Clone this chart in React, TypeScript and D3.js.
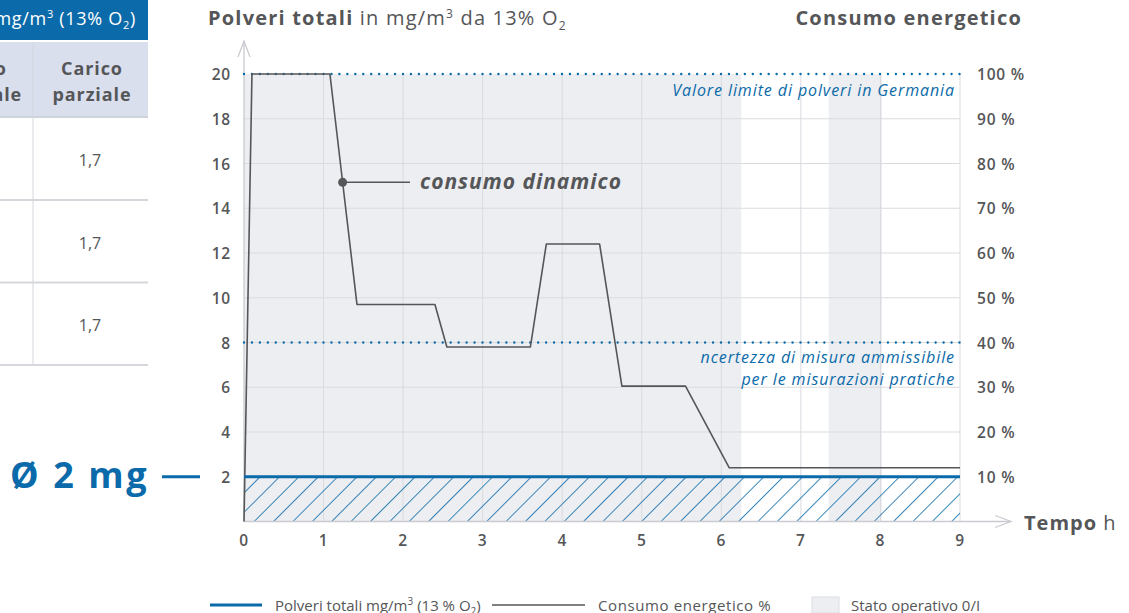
import React, { useEffect, useRef } from "react";
import * as d3 from "d3";

// hours on x, mg/m3 on left axis (right axis is % = value * 5)
const timeTicks = [0, 1, 2, 3, 4, 5, 6, 7, 8, 9];
const dustTicks = [2, 4, 6, 8, 10, 12, 14, 16, 18, 20];
const pctTicks = [10, 20, 30, 40, 50, 60, 70, 80, 90, 100];

const consumoT = [0, 0.1, 1.08, 1.42, 2.4, 2.55, 3.6, 3.8, 4.47, 4.75, 5.55, 6.1, 9];
const consumoV = [0, 20, 20, 9.7, 9.7, 7.8, 7.8, 12.4, 12.4, 6.05, 6.05, 2.4, 2.4];

const polveriT = [0, 9];
const polveriV = [2, 2];

const statoStart = [0, 7.35];
const statoEnd = [6.25, 8.02];

const limitValues = [20, 8];

const tableValues = ["1,7", "1,7", "1,7"];

const BLUE = "#0b6aa9";
const TEXT = "#555658";
const GRID = "#d9dbdf";
const FONT = "'Open Sans', sans-serif";

const App = () => {
  const svgRef = useRef(null);

  useEffect(() => {
    const width = 1129, height = 613;
    const svg = d3.select(svgRef.current)
      .attr("width", width)
      .attr("height", height)
      .style("font-family", FONT);
    svg.selectAll("*").remove();

    const x = d3.scaleLinear().domain([0, 9]).range([244, 960]);
    const y = d3.scaleLinear().domain([0, 20]).range([521.5, 74]);
    const yPct = d3.scaleLinear().domain([0, 100]).range([521.5, 74]);

    const defs = svg.append("defs");
    const pat = defs.append("pattern")
      .attr("id", "hatch")
      .attr("patternUnits", "userSpaceOnUse")
      .attr("width", 13.7)
      .attr("height", 13.7)
      .attr("patternTransform", "rotate(45)");
    pat.append("line")
      .attr("x1", 0).attr("y1", 0).attr("x2", 0).attr("y2", 13.7)
      .attr("stroke", BLUE).attr("stroke-width", 1.6);

    // ---- left table fragment ----
    svg.append("rect").attr("x", 0).attr("y", 0).attr("width", 148).attr("height", 40).attr("fill", BLUE);
    const hdr = svg.append("text").attr("x", 136).attr("y", 25).attr("text-anchor", "end")
      .attr("fill", "#fff").attr("font-size", 18).attr("letter-spacing", 0.7);
    hdr.append("tspan").text("mg/m");
    hdr.append("tspan").attr("font-size", 11).attr("dy", -7).text("3");
    hdr.append("tspan").attr("dy", 7).text(" (13% O");
    hdr.append("tspan").attr("font-size", 11).attr("dy", 4).text("2");
    hdr.append("tspan").attr("dy", -4).text(")");

    svg.append("rect").attr("x", 0).attr("y", 42).attr("width", 148).attr("height", 75).attr("fill", "#dadfee");
    svg.append("line").attr("x1", 0).attr("x2", 148).attr("y1", 117).attr("y2", 117)
      .attr("stroke", "#cfd3dc").attr("stroke-width", 2);
    svg.append("line").attr("x1", 33).attr("x2", 33).attr("y1", 42).attr("y2", 365)
      .attr("stroke", "#d5d7dc").attr("stroke-width", 1);
    [["Carico", 75], ["nominale", 101]].forEach(([t, yy]) => {
      svg.append("text").attr("x", -24).attr("y", yy).attr("text-anchor", "middle")
        .attr("font-size", 18).attr("font-weight", 700).attr("letter-spacing", 0.9)
        .attr("fill", TEXT).text(t);
    });
    [["Carico", 75], ["parziale", 101]].forEach(([t, yy]) => {
      svg.append("text").attr("x", 92).attr("y", yy).attr("text-anchor", "middle")
        .attr("font-size", 18).attr("font-weight", 700).attr("letter-spacing", 0.9)
        .attr("fill", TEXT).text(t);
    });
    tableValues.forEach((v, i) => {
      const top = 118 + i * 82.5;
      svg.append("text").attr("x", 90).attr("y", top + 48).attr("text-anchor", "middle")
        .attr("font-size", 16).attr("fill", TEXT).text(v);
      svg.append("line").attr("x1", 0).attr("x2", 148).attr("y1", top + 82).attr("y2", top + 82)
        .attr("stroke", "#d5d7dc").attr("stroke-width", 2);
    });

    // ---- average label ----
    svg.append("text").attr("x", 10).attr("y", 488).attr("font-size", 36).attr("font-weight", 700)
      .attr("letter-spacing", 2.6).attr("fill", BLUE).text("Ø 2 mg");
    svg.append("line").attr("x1", 162).attr("x2", 200).attr("y1", y(2)).attr("y2", y(2))
      .attr("stroke", BLUE).attr("stroke-width", 3);

    // ---- plot background ----
    svg.selectAll(".stato")
      .data(statoStart.map((s, i) => [s, statoEnd[i]]))
      .enter().append("rect")
      .attr("x", d => x(d[0]))
      .attr("y", y(20))
      .attr("width", d => x(d[1]) - x(d[0]))
      .attr("height", y(0) - y(20))
      .attr("fill", "#eceef1");

    svg.selectAll(".vgrid")
      .data(timeTicks.slice(1))
      .enter().append("line")
      .attr("x1", d => x(d)).attr("x2", d => x(d))
      .attr("y1", y(20)).attr("y2", y(0))
      .attr("stroke", GRID).attr("stroke-width", 1);

    svg.selectAll(".hgrid")
      .data(dustTicks.slice(0, -1))
      .enter().append("line")
      .attr("x1", x(0)).attr("x2", x(9))
      .attr("y1", d => y(d)).attr("y2", d => y(d))
      .attr("stroke", GRID).attr("stroke-width", 1);

    // hatched area under the dust line
    const area = d3.area().x((d, i) => x(polveriT[i])).y0(y(0)).y1(d => y(d));
    svg.append("path").datum(polveriV).attr("d", area).attr("fill", "url(#hatch)");

    // axes with open arrowheads
    const axisCol = "#c9cbd1";
    svg.append("line").attr("x1", x(0)).attr("x2", x(0)).attr("y1", y(0)).attr("y2", 41)
      .attr("stroke", axisCol).attr("stroke-width", 1.3);
    svg.append("path").attr("d", `M${x(0) - 6},57 L${x(0)},41 L${x(0) + 6},57`)
      .attr("fill", "none").attr("stroke", axisCol).attr("stroke-width", 1.3);
    svg.append("line").attr("x1", x(0)).attr("x2", 1011).attr("y1", y(0)).attr("y2", y(0))
      .attr("stroke", axisCol).attr("stroke-width", 1.3);
    svg.append("path").attr("d", `M995,${y(0) - 6} L1011,${y(0)} L995,${y(0) + 6}`)
      .attr("fill", "none").attr("stroke", axisCol).attr("stroke-width", 1.3);

    // limit lines (dotted)
    svg.selectAll(".limit")
      .data(limitValues)
      .enter().append("line")
      .attr("x1", x(0)).attr("x2", x(9))
      .attr("y1", d => y(d)).attr("y2", d => y(d))
      .attr("stroke", BLUE).attr("stroke-width", 2.4)
      .attr("stroke-linecap", "round")
      .attr("stroke-dasharray", "0 7.95");

    const noteAttrs = (sel) => sel.attr("text-anchor", "end").attr("font-size", 16)
      .attr("letter-spacing", 0.9).attr("font-style", "italic").attr("fill", BLUE);
    svg.append("text").attr("x", 955).attr("y", 96).call(noteAttrs)
      .text("Valore limite di polveri in Germania");
    svg.append("text").attr("x", 955).attr("y", 363).call(noteAttrs)
      .text("ncertezza di misura ammissibile");
    svg.append("text").attr("x", 955).attr("y", 385).call(noteAttrs)
      .text("per le misurazioni pratiche");

    // consumo line
    const line = d3.line().x((d, i) => x(consumoT[i])).y(d => y(d));
    svg.append("path").datum(consumoV).attr("d", line)
      .attr("fill", "none").attr("stroke", TEXT).attr("stroke-width", 1.6)
      .attr("stroke-linejoin", "round");

    // polveri line
    const pLine = d3.line().x((d, i) => x(polveriT[i])).y(d => y(d));
    svg.append("path").datum(polveriV).attr("d", pLine)
      .attr("fill", "none").attr("stroke", BLUE).attr("stroke-width", 3);

    // annotation on the falling segment
    const f = 0.47;
    const dotX = consumoT[2] + (consumoT[3] - consumoT[2]) * f;
    const dotY = consumoV[2] + (consumoV[3] - consumoV[2]) * f;
    svg.append("circle").attr("cx", x(dotX)).attr("cy", y(dotY)).attr("r", 4.5).attr("fill", TEXT);
    svg.append("line").attr("x1", x(dotX)).attr("x2", 410).attr("y1", y(dotY)).attr("y2", y(dotY))
      .attr("stroke", TEXT).attr("stroke-width", 1.5);
    svg.append("text").attr("x", 420).attr("y", y(dotY) + 7)
      .attr("font-size", 21).attr("font-weight", 700).attr("font-style", "italic")
      .attr("letter-spacing", 1).attr("fill", TEXT)
      .text("consumo dinamico");

    // tick labels
    const tickAttrs = (sel) => sel.attr("font-size", 15.5).attr("font-weight", 600)
      .attr("letter-spacing", 0.8).attr("fill", TEXT);
    svg.selectAll(".ly")
      .data(dustTicks)
      .enter().append("text")
      .attr("x", 231).attr("y", d => y(d) + 6)
      .attr("text-anchor", "end").call(tickAttrs)
      .text(d => d);
    svg.selectAll(".ry")
      .data(pctTicks)
      .enter().append("text")
      .attr("x", 977).attr("y", d => yPct(d) + 6)
      .call(tickAttrs)
      .text(d => `${d} %`);
    svg.selectAll(".lx")
      .data(timeTicks)
      .enter().append("text")
      .attr("x", d => x(d)).attr("y", 546)
      .attr("text-anchor", "middle").call(tickAttrs)
      .text(d => d);

    // titles
    const t1 = svg.append("text").attr("x", 208).attr("y", 25).attr("font-size", 20)
      .attr("letter-spacing", 1.2).attr("fill", TEXT);
    t1.append("tspan").attr("font-weight", 700).text("Polveri totali");
    t1.append("tspan").text(" in mg/m");
    t1.append("tspan").attr("font-size", 12).attr("dy", -7).text("3");
    t1.append("tspan").attr("dy", 7).text(" da 13% O");
    t1.append("tspan").attr("font-size", 12).attr("dy", 5).text("2");
    svg.append("text").attr("x", 1022).attr("y", 25).attr("text-anchor", "end")
      .attr("font-size", 20).attr("font-weight", 700).attr("letter-spacing", 1.2)
      .attr("fill", TEXT).text("Consumo energetico");
    const tx = svg.append("text").attr("x", 1024).attr("y", 530).attr("font-size", 20)
      .attr("letter-spacing", 1).attr("fill", TEXT);
    tx.append("tspan").attr("font-weight", 700).text("Tempo");
    tx.append("tspan").text(" h");

    // legend
    const ly = 605;
    const legAttrs = (sel) => sel.attr("font-size", 15).attr("letter-spacing", 0).attr("fill", TEXT);
    svg.append("line").attr("x1", 210).attr("x2", 262).attr("y1", ly).attr("y2", ly)
      .attr("stroke", BLUE).attr("stroke-width", 3);
    const lg1 = svg.append("text").attr("x", 275).attr("y", ly + 6).call(legAttrs);
    lg1.append("tspan").text("Polveri totali mg/m");
    lg1.append("tspan").attr("font-size", 10).attr("dy", -6).text("3");
    lg1.append("tspan").attr("dy", 6).text(" (13 % O");
    lg1.append("tspan").attr("font-size", 10).attr("dy", 4).text("2");
    lg1.append("tspan").attr("dy", -4).text(")");
    svg.append("line").attr("x1", 492).attr("x2", 585).attr("y1", ly).attr("y2", ly)
      .attr("stroke", TEXT).attr("stroke-width", 1.5);
    svg.append("text").attr("x", 598).attr("y", ly + 6).call(legAttrs)
      .attr("letter-spacing", 0.6).text("Consumo energetico %");
    svg.append("rect").attr("x", 812).attr("y", 597).attr("width", 27).attr("height", 16)
      .attr("fill", "#eceef1").attr("stroke", "#dcdee2");
    svg.append("text").attr("x", 851).attr("y", ly + 6).call(legAttrs)
      .text("Stato operativo 0/I");
  }, []);

  return <svg ref={svgRef} style={{ position: "absolute", left: 0, top: 0 }}></svg>;
};

export default App;
